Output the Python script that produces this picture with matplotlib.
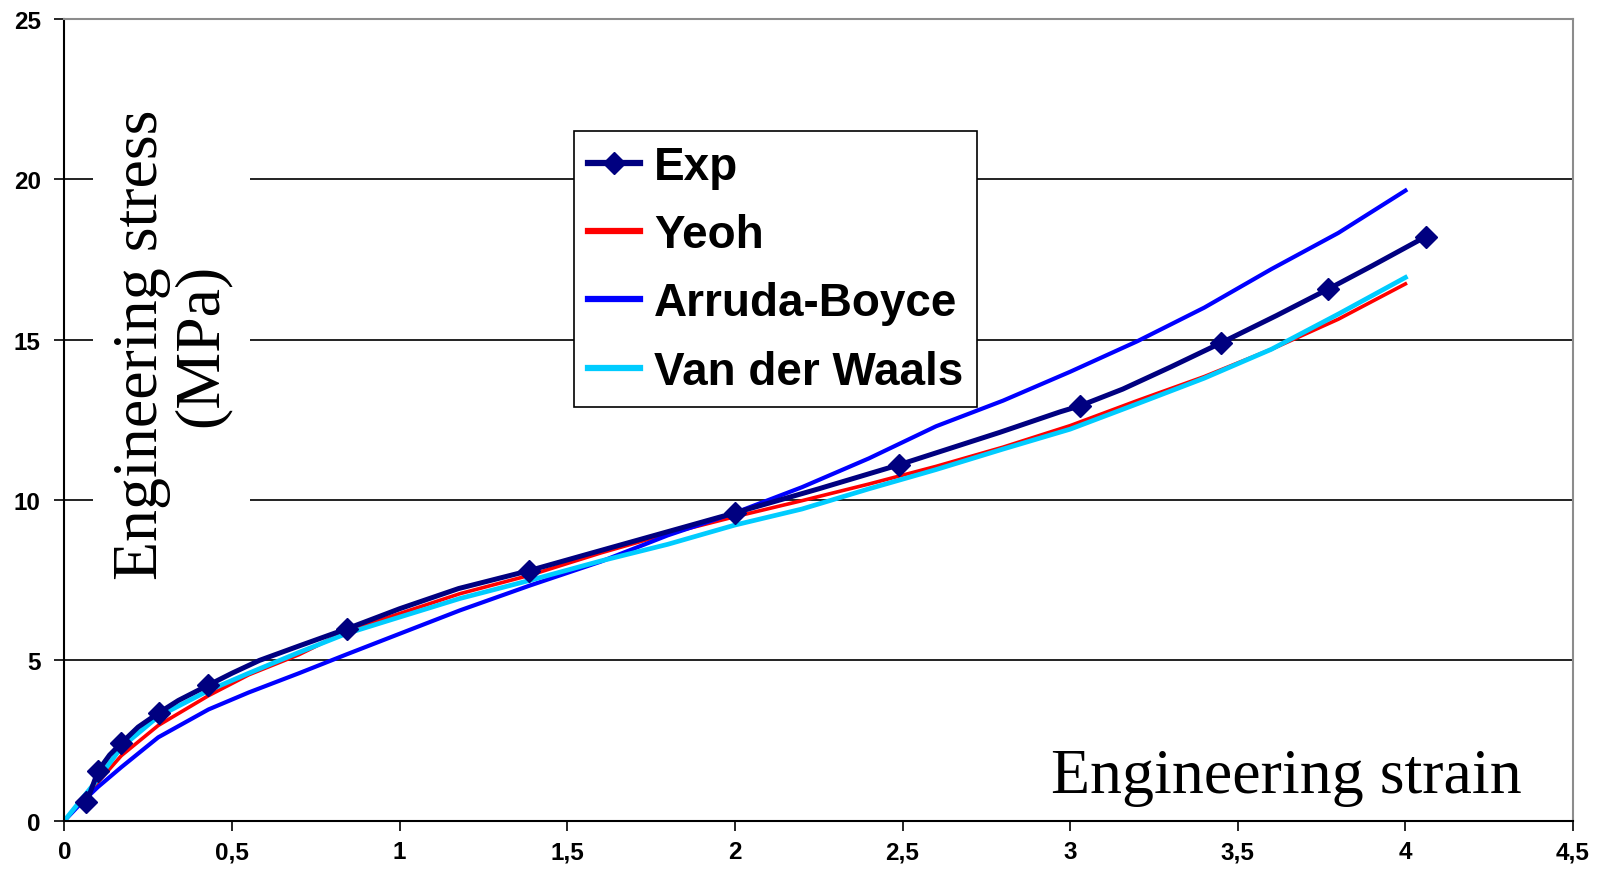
import matplotlib
matplotlib.use("Agg")
import matplotlib.pyplot as plt

# Experimental curve (uniaxial tension), markers only on selected points
exp_strain = [0.066, 0.101, 0.135, 0.170, 0.22, 0.281, 0.34, 0.428, 0.5, 0.582,
              0.7, 0.844, 1.0, 1.176, 1.387, 1.55, 1.7, 1.85, 2.0, 2.25,
              2.49, 2.79, 2.97, 3.03, 3.157, 3.3, 3.45, 3.615, 3.77, 3.9, 4.06]
exp_stress = [0.57, 1.56, 2.05, 2.42, 2.92, 3.36, 3.75, 4.22, 4.6, 5.0,
              5.45, 5.99, 6.61, 7.24, 7.8, 8.28, 8.72, 9.16, 9.6, 10.35,
              11.1, 12.11, 12.75, 12.94, 13.46, 14.15, 14.9, 15.75, 16.58, 17.3, 18.21]
exp_marks = [0, 1, 3, 5, 7, 11, 14, 18, 20, 23, 26, 28, 30]

# Hyperelastic model fits, evaluated on a common strain grid
model_strain = [0, 0.05, 0.1, 0.17, 0.28, 0.43, 0.55, 0.7, 0.84, 1.0, 1.18, 1.39,
                1.6, 1.8, 2.0, 2.2, 2.4, 2.6, 2.8, 3.0, 3.2, 3.4, 3.6, 3.8, 4.0]
yeoh = [0, 0.6, 1.2, 2.03, 2.97, 3.9, 4.55, 5.18, 5.9, 6.46, 7.08, 7.66,
        8.35, 8.95, 9.48, 9.98, 10.5, 11.05, 11.65, 12.32, 13.1, 13.85, 14.7, 15.64, 16.74]
arruda_boyce = [0, 0.55, 1.05, 1.67, 2.6, 3.47, 4.0, 4.6, 5.18, 5.83, 6.56, 7.34,
                8.08, 8.9, 9.6, 10.4, 11.3, 12.3, 13.1, 14.0, 14.95, 16.0, 17.2, 18.33, 19.65]
van_der_waals = [0, 0.65, 1.3, 2.29, 3.25, 4.06, 4.6, 5.25, 5.83, 6.35, 6.93, 7.5,
                 8.1, 8.62, 9.22, 9.72, 10.35, 10.95, 11.59, 12.21, 13.0, 13.8, 14.7, 15.8, 16.94]

x_ticks = [0, 0.5, 1, 1.5, 2, 2.5, 3, 3.5, 4, 4.5]
y_ticks = [0, 5, 10, 15, 20, 25]

SANS = "Liberation Sans"
SERIF = "Liberation Serif"

fig = plt.figure(figsize=(15.97, 8.78), dpi=100)
ax = fig.add_axes([0.0403, 0.0641, 0.9447, 0.9131])

ax.plot(model_strain, yeoh, color="#FF0000", lw=2.6, label="Yeoh", zorder=2.0)
ax.plot(model_strain, arruda_boyce, color="#0000FF", lw=3.0, label="Arruda-Boyce", zorder=2.1)
ax.plot(model_strain, van_der_waals, color="#00CCFF", lw=3.4, label="Van der Waals", zorder=2.2)
ax.plot(exp_strain, exp_stress, color="#000080", lw=3.6, marker="D", markersize=11,
        markevery=exp_marks, label="Exp", zorder=2.5)

ax.set_xlim(0, 4.5)
ax.set_ylim(0, 25)
ax.set_xticks(x_ticks)
ax.set_yticks(y_ticks)
ax.set_xticklabels([f"{v:g}".replace(".", ",") for v in x_ticks])
ax.set_yticklabels([f"{v:g}" for v in y_ticks])
for lab in ax.get_xticklabels() + ax.get_yticklabels():
    lab.set_fontfamily(SANS)
    lab.set_fontweight("bold")
    lab.set_fontsize(17.5)
ax.tick_params(axis="both", direction="out", length=7, width=1.2, color="black")
ax.tick_params(axis="x", pad=7)
ax.tick_params(axis="y", pad=10)

# horizontal gridlines only at the inner ticks
ax.set_axisbelow(True)
ax.yaxis.grid(True, color="#222222", lw=1.4)
gls = ax.get_ygridlines()
gls[0].set_visible(False)
gls[-1].set_visible(False)

for side in ("left", "bottom"):
    ax.spines[side].set_color("black")
    ax.spines[side].set_linewidth(1.5)
for side in ("top", "right"):
    ax.spines[side].set_color("#8c8c8c")
    ax.spines[side].set_linewidth(1.5)

# axis titles sit inside the plot area
ax.text(0.32, 14.86, "Engineering stress\n(MPa)", rotation=90, ha="center", va="center",
        family=SERIF, fontsize=46, linespacing=1.05, zorder=3,
        bbox=dict(boxstyle="square,pad=0.3", facecolor="white", edgecolor="none"))
ax.text(3.645, 0.895, "Engineering strain", ha="center", va="baseline",
        family=SERIF, fontsize=46, zorder=3)

handles, labels = ax.get_legend_handles_labels()
order = [3, 0, 1, 2]
leg = ax.legend([handles[i] for i in order], [labels[i] for i in order],
                loc="upper left", bbox_to_anchor=(574 / 1597, 1 - 132 / 878),
                bbox_transform=fig.transFigure, borderaxespad=0,
                prop=dict(family=SANS, weight="bold", size=33),
                frameon=True, fancybox=False, framealpha=1, edgecolor="black",
                borderpad=0.3, labelspacing=0.53, handlelength=1.15,
                handletextpad=0.3, numpoints=1)
leg.get_frame().set_linewidth(1.2)
leg.set_zorder(4)
for h in leg.legend_handles:
    h.set_linewidth(4.5)

fig.savefig("out.png", dpi=100)
